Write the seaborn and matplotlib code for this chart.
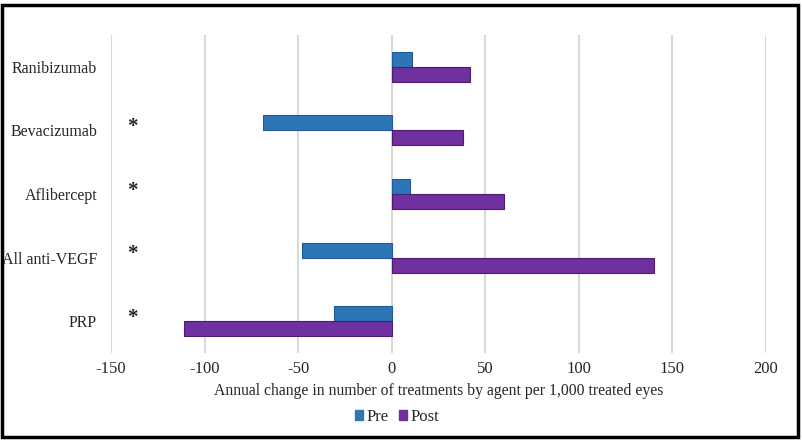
import numpy as np
import pandas as pd
import matplotlib.pyplot as plt
import seaborn as sns
from matplotlib.patches import Patch, Rectangle

agents = ["Ranibizumab", "Bevacizumab", "Aflibercept", "All anti-VEGF", "PRP"]
pre_vals = [11, -69, 10, -48, -31]
post_vals = [42, 38, 60, 140, -111]
significant = [False, True, True, True, True]
periods = ["Pre", "Post"]
x_ticks = [-150, -100, -50, 0, 50, 100, 150, 200]

colors = {"Pre": "#2E75B6", "Post": "#7030A0"}
edges = {"Pre": "#1F5C99", "Post": "#4A1F6E"}

df = pd.DataFrame({
    "agent": agents * 2,
    "period": ["Pre"] * len(agents) + ["Post"] * len(agents),
    "value": pre_vals + post_vals,
})

sns.set_theme(style="white")
plt.rcParams["font.family"] = ["Liberation Serif", "DejaVu Serif"]

fig = plt.figure(figsize=(8.02, 4.41), dpi=100)
ax = fig.add_axes([111 / 802, 1 - 353 / 441, 655 / 802, 318 / 441])

sns.barplot(
    data=df, y="agent", x="value", hue="period", order=agents,
    hue_order=periods, palette=colors, saturation=1, orient="h", width=0.47,
    gap=0, legend=False, ax=ax, zorder=3,
)
for cont, p in zip(ax.containers, periods):
    for bar in cont:
        bar.set_edgecolor(edges[p])
        bar.set_linewidth(0.8)

ax.set_xlim(-150, 200)
ax.set_xticks(x_ticks)
ax.set_xticklabels([str(t) for t in x_ticks], fontsize=12)
ax.set_ylim(len(agents) - 0.5, -0.5)
ax.tick_params(axis="y", labelsize=11.5, pad=10, length=0)
ax.tick_params(axis="x", pad=6, length=0)
ax.set_ylabel("")
ax.set_xlabel("Annual change in number of treatments by agent per 1,000 treated eyes",
              fontsize=11.3, labelpad=4)
ax.grid(axis="x", color="#D9D9D9", linewidth=1.5, zorder=0)
ax.grid(axis="y", visible=False)
for s in ax.spines.values():
    s.set_visible(False)

# significance markers
for i, sig in enumerate(significant):
    if sig:
        ax.text(-138.5, i - 0.05, "*", fontsize=15, ha="center", va="center",
                fontweight="bold")

handles = [Patch(facecolor=colors[p], edgecolor=colors[p], label=p) for p in periods]
fig.legend(handles=handles, loc="center", bbox_to_anchor=(397 / 802, 1 - 417 / 441),
           ncol=2, frameon=False, fontsize=12, handlelength=0.5, handleheight=0.5,
           handletextpad=0.2, columnspacing=0.6)

fig.patches.append(Rectangle((2 / 802, 4 / 441), 796 / 802, 432 / 441,
                             transform=fig.transFigure, fill=False,
                             edgecolor="black", linewidth=2.5))

fig.savefig("out.png", dpi=100)
